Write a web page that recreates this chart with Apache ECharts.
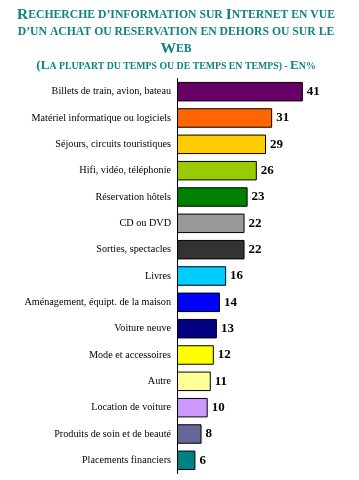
<!DOCTYPE html>
<html><head><meta charset="utf-8">
<script src="https://cdn.jsdelivr.net/npm/echarts@6/dist/echarts.min.js"></script>
<style>html,body{margin:0;padding:0;background:#fff}#c{width:359px;height:480px}</style>
</head><body><div id="c"></div>
<script>
const categories = ["Billets de train, avion, bateau","Matériel informatique ou logiciels","Séjours, circuits touristiques","Hifi, vidéo, téléphonie","Réservation hôtels","CD ou DVD","Sorties, spectacles","Livres","Aménagement, équipt. de la maison","Voiture neuve","Mode et accessoires","Autre","Location de voiture","Produits de soin et de beauté","Placements financiers"];
const values = [41,31,29,26,23,22,22,16,14,13,12,11,10,8,6];
const colors = ["#660066","#FF6600","#FFCC00","#99CC00","#008000","#999999","#333333","#00CCFF","#0000FF","#000080","#FFFF00","#FFFF99","#CC99FF","#666699","#008080"];

const TEAL = "#108282";
const F = "Liberation Serif";
function rich(big, small){
  return {
    a:{fontFamily:F,fontSize:big,fontWeight:'bold',fill:TEAL},
    b:{fontFamily:F,fontSize:small,fontWeight:'bold',fill:TEAL}
  };
}
function line(segs){ return segs.map(s=>'{'+s[0]+'|'+s[1]+'}').join(''); }
const titleLines = [
  {y:15, big:15.5, small:11.7, segs:[['a','R'],['b','ECHERCHE D’INFORMATION SUR '],['a','I'],['b','NTERNET EN VUE']]},
  {y:32, big:15.5, small:11.7, segs:[['b','D’UN ACHAT OU RESERVATION EN DEHORS OU SUR LE']]},
  {y:49, big:15.5, small:11.7, segs:[['a','W'],['b','EB']]},
  {y:66, big:13.2, small:9.8, segs:[['a','(L'],['b','A PLUPART DU TEMPS OU DE TEMPS EN TEMPS) - '],['a','E'],['b','N%']]}
];

const chart = echarts.init(document.getElementById('c'));
chart.setOption({
  animation:false,
  graphic: titleLines.map(l=>({
    type:'text', x:176, y:l.y,
    style:{text:line(l.segs), rich:rich(l.big,l.small), fill:TEAL, align:'center', verticalAlign:'middle'}
  })),
  grid:{left:177, top:78.5, width:153.5, height:395, containLabel:false},
  xAxis:{type:'value', min:0, max:50, show:false},
  yAxis:{type:'category', data:categories, inverse:true,
    axisLine:{show:true, lineStyle:{color:'#000', width:1}},
    axisTick:{show:false},
    axisLabel:{fontFamily:F, fontSize:10.2, color:'#000', margin:6}
  },
  series:[{
    type:'bar', data:values.map((v,i)=>({value:v, itemStyle:{color:colors[i]}})),
    barCategoryGap:'26%',
    itemStyle:{borderColor:'#000', borderWidth:1},
    label:{show:true, position:'right', distance:4, fontFamily:F, fontSize:13, fontWeight:'bold', color:'#000'}
  }]
});
</script></body></html>
